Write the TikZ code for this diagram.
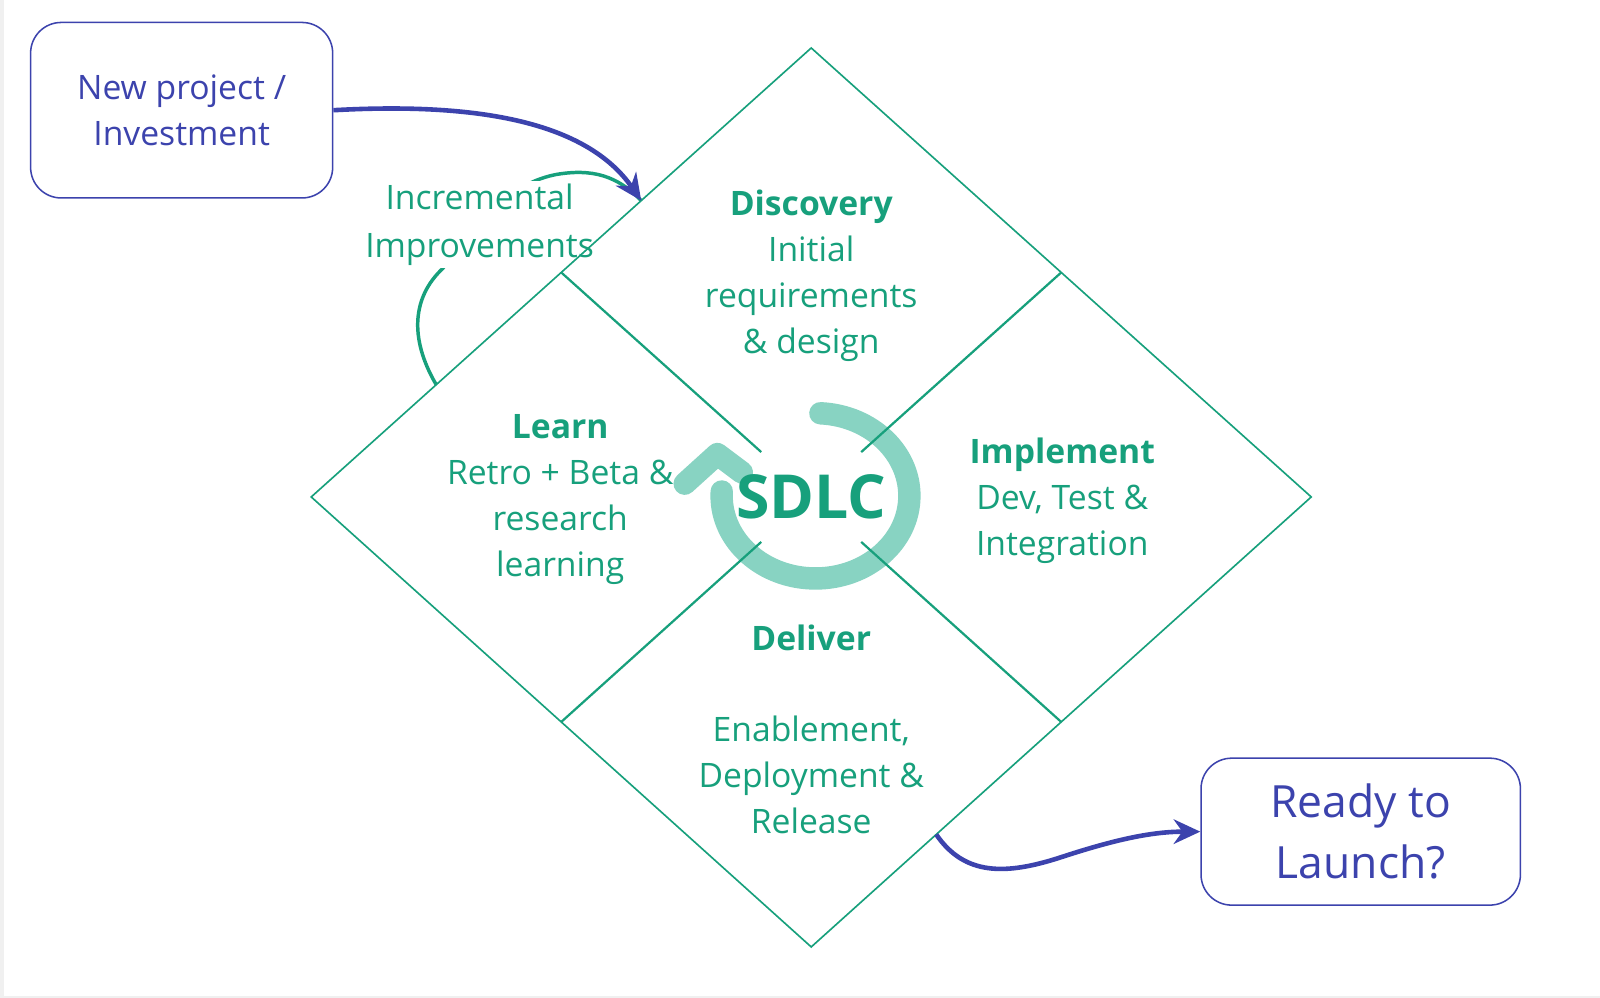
\documentclass[tikz,border=0pt]{standalone}
\usepackage{fontspec}
\setmainfont{Open Sans}
\usetikzlibrary{arrows.meta,calc}
\definecolor{grn}{HTML}{17A07C}
\definecolor{blu}{HTML}{3C43AD}
\definecolor{lteal}{HTML}{88D3C2}
\begin{document}
\begin{tikzpicture}[x=1pt,y=-1pt,
  lbl/.style={text=grn,font=\fontsize{33}{45}\selectfont,align=center,anchor=base,inner sep=0pt},
  hd/.style={text=grn,font=\fontsize{33}{45}\selectfont\bfseries,align=center,anchor=base,inner sep=0pt},
  bbox/.style={draw=blu,line width=1.5pt,rounded corners=30pt,text=blu,align=center},
  dedge/.style={draw=grn,line width=1.6pt},
  dinner/.style={draw=grn,line width=2.2pt},
  blarr/.style={draw=blu,line width=4.5pt,-{Stealth[length=26pt,width=24pt]}},
  loop/.style={draw=grn,line width=3.4pt},
  cyc/.style={draw=lteal,line width=22pt,line cap=round,line join=round},
]
\useasboundingbox[fill=white] (0,0) rectangle (1568,978);
\fill[black!6] (0,0) rectangle (4,978);
\fill[black!6] (0,976) rectangle (1568,978);

% diamond vertices
\coordinate (T) at (795,47);
\coordinate (L) at (305,487);
\coordinate (R) at (1285,487);
\coordinate (B) at (795,928);
\coordinate (C) at (795,487);
\coordinate (MTL) at ($(T)!0.5!(L)$);
\coordinate (MTR) at ($(T)!0.5!(R)$);
\coordinate (MBL) at ($(B)!0.5!(L)$);
\coordinate (MBR) at ($(B)!0.5!(R)$);
\coordinate (inA) at ($(T)!0.34!(L)$);
\coordinate (loopS) at ($(T)!0.75!(L)$);
\coordinate (outS) at ($(R)!0.75!(B)$);

% boxes
\node[bbox,minimum width=296pt,minimum height=172pt,font=\fontsize{33}{45}\selectfont] (newp) at (178,108) {New project /\\Investment};
\node[bbox,minimum width=313pt,minimum height=144pt,font=\fontsize{43.5}{60}\selectfont] (ready) at (1333.5,815) {Ready to\\Launch?};

% incremental loop (behind label)
\draw[loop] (loopS) .. controls (400,330) and (405,290) .. (434,263)
  .. controls (480,200) and (510,178) .. (545,171)
  .. controls (580,165) and (605,172) .. (inA);
\node[fill=white,text=grn,font=\fontsize{33}{47}\selectfont,align=center,inner xsep=1pt,inner ysep=3pt] (inc) at (470,220) {Incremental\\Improvements};

% SDLC cycle
\draw[cyc] (804,405) arc[start angle=-87,end angle=183,x radius=92,y radius=81];
\draw[cyc] (671,474) -- (703,445) -- (727,463);

% diamond
\draw[dedge] (T) -- (R) -- (B) -- (L) -- cycle;
\draw[dinner] (MTL) -- ($(MTL)!0.8!(C)$);
\draw[dinner] (MTR) -- ($(MTR)!0.8!(C)$);
\draw[dinner] (MBL) -- ($(MBL)!0.8!(C)$);
\draw[dinner] (MBR) -- ($(MBR)!0.8!(C)$);

% texts (multi-line nodes: base = last line)
\node[text=grn,font=\fontsize{59.5}{60}\selectfont\bfseries,anchor=base,inner sep=0pt] (sdlc) at (795,508) {SDLC};
\node[hd] (disc) at (795,211) {Discovery};
\node[lbl] (discT) at (795,346) {Initial\\requirements\\\& design};
\node[hd] (learn) at (549,430) {Learn};
\node[lbl] (learnT) at (549,565) {Retro + Beta \&\\research\\learning};
\node[hd] (impl) at (1041,454) {Implement};
\node[lbl] (implT) at (1041,544) {Dev, Test \&\\Integration};
\node[hd] (deliv) at (795,637) {Deliver};
\node[lbl] (delivT) at (795,817) {Enablement,\\Deployment \&\\Release};

% blue arrows
\draw[blarr] (newp.east) .. controls (470,100) and (575,120) .. (inA);
\draw[blarr] (outS) .. controls (945,858) and (985,858) .. (1040,840)
  .. controls (1095,822) and (1130,815) .. (ready.west);
\end{tikzpicture}
\end{document}
